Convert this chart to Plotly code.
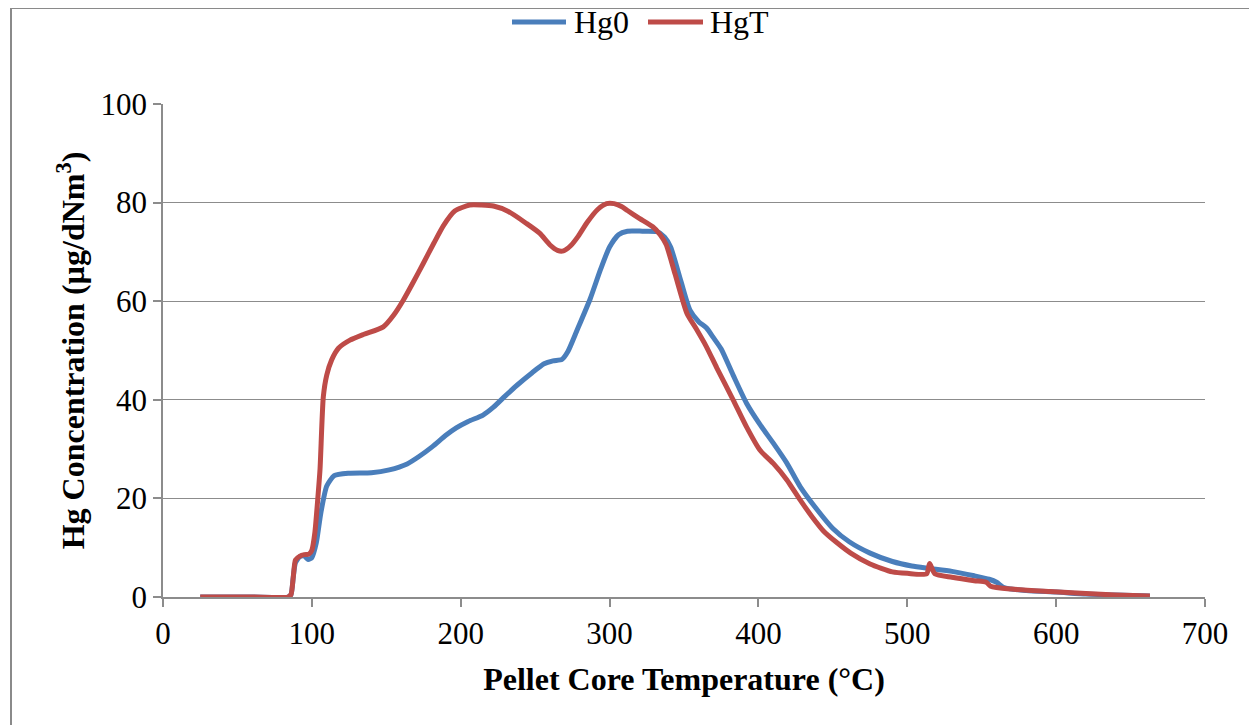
import plotly.graph_objects as go

# Hg0 (elemental mercury) series
hg0_temp = [25, 60, 84, 86, 87.5, 89, 92, 95, 97.5, 100, 103, 106, 110, 115, 125, 140, 152, 164, 172,
            181, 190, 197, 205, 215, 222, 230, 238, 248, 256, 262, 268, 272, 278, 287, 294, 300, 306,
            312, 322, 332, 337, 341, 348, 354, 360, 365, 370, 375, 383, 392, 401, 410, 419, 428, 440,
            450, 461, 475, 490, 503, 515, 530, 545, 555, 560, 565, 580, 600, 620, 640, 663]
hg0_val = [0, 0, 0, 0.5, 4, 7, 8.2, 8.3, 7.6, 8, 11, 17, 22.5, 24.6, 25.1, 25.2, 25.8, 27, 28.5,
           30.5, 32.8, 34.3, 35.6, 36.9, 38.5, 40.8, 43, 45.5, 47.3, 47.9, 48.2, 49.8, 54, 60.5, 66.5, 71, 73.5,
           74.2, 74.2, 74.1, 73, 71, 64, 58.2, 55.8, 54.6, 52.5, 50.3, 45, 39.3, 35, 31.2, 27.2, 22.4, 17.5,
           13.9, 11.2, 8.9, 7.2, 6.3, 5.8, 5.2, 4.3, 3.6, 3.0, 1.9, 1.3, 1.0, 0.6, 0.4, 0.2]

# HgT (total mercury) series
hgt_temp = [25, 60, 84, 86, 87.5, 89, 92, 95, 98, 100, 102, 104, 105.5, 107.7, 110, 113.3, 118, 125.6,
            135, 148, 155, 161.4, 168, 174.9, 182, 188.3, 196, 206, 214, 222, 232, 244, 253, 260, 265,
            269, 274, 279, 285, 292, 298, 303, 308, 312, 320, 329, 334, 338, 344, 352, 358, 365, 372,
            383, 392, 401, 410, 419, 428, 436, 444, 452, 462, 475, 490, 500, 513, 515, 518.5, 530, 545,
            553, 556, 570, 596, 620, 640, 663]
hgt_val = [0, 0, 0, 0.5, 4, 7.5, 8.3, 8.6, 8.7, 9.5, 13, 20, 26, 40.6, 45, 48.1, 50.5, 52.1,
           53.3, 54.8, 57.2, 60.2, 63.8, 67.7, 71.8, 75.3, 78.3, 79.5, 79.5, 79.3, 78.2, 75.8, 73.8, 71.4, 70.3,
           70.2, 71.3, 73.2, 76, 78.6, 79.8, 79.8, 79.2, 78.4, 76.8, 75.1, 73.5, 71.5, 65.5, 57.5, 54.5, 50.8, 46.5,
           40, 34.5, 29.8, 27.1, 23.8, 19.7, 16.3, 13.3, 11.2, 8.9, 6.7, 5.1, 4.8, 4.7, 6.8, 4.7, 4.0, 3.3,
           3.0, 2.2, 1.6, 1.1, 0.7, 0.4, 0.2]

series_names = ["Hg0", "HgT"]
x_ticks = [0, 100, 200, 300, 400, 500, 600, 700]
y_ticks = [0, 20, 40, 60, 80, 100]

BLUE = "#4A7EBB"
RED = "#BE4B48"
GRID = "#8C8C8C"
FONT = "Liberation Serif, Times New Roman, serif"

# plot area geometry in figure pixels (used for decorations only)
L, R, T, B = 155, 60, 96, 136
PW, PH = 1257 - L - R, 725 - T - B


def px_x(p):
    return (p - L) / PW


def px_y(p):
    return 1 + (T - p) / PH


fig = go.Figure()
fig.add_trace(go.Scatter(x=hg0_temp, y=hg0_val, name=series_names[0], mode="lines",
                         line=dict(color=BLUE, width=5, shape="spline", smoothing=0.6)))
fig.add_trace(go.Scatter(x=hgt_temp, y=hgt_val, name=series_names[1], mode="lines",
                         line=dict(color=RED, width=5, shape="spline", smoothing=0.6)))

fig.update_layout(
    width=1257, height=725,
    paper_bgcolor="white", plot_bgcolor="white",
    margin=dict(l=L, r=R, t=T, b=B),
    font=dict(family=FONT, size=31, color="black"),
    showlegend=False,
    xaxis=dict(range=[0, 700], tickvals=x_ticks, showgrid=False, zeroline=False,
               showline=True, linecolor=GRID, linewidth=1.5,
               ticks="outside", ticklen=8, tickcolor=GRID, tickwidth=1.5,
               tickfont=dict(size=31),
               title=dict(text="<b>Pellet Core Temperature (°C)</b>", font=dict(size=32), standoff=18)),
    yaxis=dict(range=[0, 100], tickvals=y_ticks, showgrid=True, gridcolor=GRID, gridwidth=1.3,
               zeroline=False, showline=True, linecolor=GRID, linewidth=1.5,
               ticks="outside", ticklen=8, tickcolor=GRID, tickwidth=1.5,
               tickfont=dict(size=31),
               title=dict(text="<b>Hg Concentration (µg/dNm<sup>3</sup>)</b>", font=dict(size=32), standoff=6)),
)

# chart-area border (left and top edges visible)
fig.add_shape(type="rect", xref="paper", yref="paper",
              x0=px_x(3), x1=1.2, y0=-0.5, y1=px_y(0),
              line=dict(color="#8A8A8A", width=2), fillcolor="rgba(0,0,0,0)", layer="below")

# legend (drawn manually to match the long Excel legend keys)
LEG_Y = 14
legend_items = [(series_names[0], BLUE, 504, 558, 564), (series_names[1], RED, 640, 695, 700)]
for name, col, a, b, t in legend_items:
    fig.add_shape(type="line", xref="paper", yref="paper",
                  x0=px_x(a), x1=px_x(b), y0=px_y(LEG_Y), y1=px_y(LEG_Y),
                  line=dict(color=col, width=5))
    fig.add_annotation(xref="paper", yref="paper", x=px_x(t), y=px_y(LEG_Y),
                       xanchor="left", yanchor="middle", text=name, showarrow=False,
                       font=dict(size=32, family=FONT, color="black"))

fig.write_html("out.html")
